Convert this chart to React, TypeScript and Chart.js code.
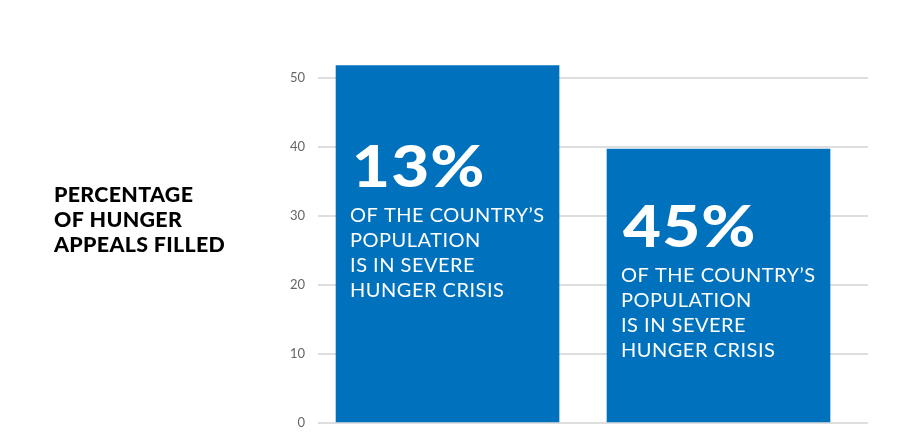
import React, { useEffect, useRef } from "react";
import { Chart, registerables } from "chart.js";

Chart.register(...registerables);

// ---- data ----
const categories = ["Country A", "Country B"];
const appealsFilled = [51.8, 39.7]; // percentage of hunger appeals filled
const severeHungerPct = ["13%", "45%"];
const barCaption = ["OF THE COUNTRY\u2019S", "POPULATION", "IS IN SEVERE", "HUNGER CRISIS"];
const yTicks = [0, 10, 20, 30, 40, 50];
const axisTitle = ["PERCENTAGE", "OF HUNGER", "APPEALS FILLED"];
// value on y axis where each big number's baseline sits
const numberBaselineValue = [34.2, 25.5];

const BAR_COLOR = "#0071bc";

function wideText(ctx: CanvasRenderingContext2D, text: string, x: number, y: number, sx: number) {
  ctx.save();
  ctx.translate(x, y);
  ctx.scale(sx, 1);
  ctx.fillText(text, 0, 0);
  ctx.restore();
}

const textPlugin = {
  id: "barText",
  afterDatasetsDraw(chart: any) {
    const ctx = chart.ctx as CanvasRenderingContext2D;
    const meta = chart.getDatasetMeta(0);
    const y = chart.scales.y;
    ctx.save();
    ctx.fillStyle = "#ffffff";
    ctx.textAlign = "left";
    ctx.textBaseline = "alphabetic";
    meta.data.forEach((bar: any, i: number) => {
      const left = bar.x - bar.width / 2 + 14;
      const base = y.getPixelForValue(numberBaselineValue[i]);
      ctx.font = "900 58px Lato";
      (ctx as any).letterSpacing = "1px";
      wideText(ctx, severeHungerPct[i], left + 2, base, 1.13);
      ctx.font = "400 20px Lato";
      (ctx as any).letterSpacing = "0.5px";
      barCaption.forEach((line, k) => {
        ctx.fillText(line, left, base + 35 + k * 25);
      });
    });
    // left axis title
    ctx.fillStyle = "#000000";
    ctx.font = "900 20px Lato";
    (ctx as any).letterSpacing = "0.3px";
    axisTitle.forEach((line, k) => {
      wideText(ctx, line, 54, 202 + k * 25, 1.07);
    });
    ctx.restore();
  },
};

export default function App() {
  const ref = useRef<HTMLCanvasElement | null>(null);

  useEffect(() => {
    document.body.style.margin = "0";
    if (!ref.current) return;
    const chart = new Chart(ref.current, {
      type: "bar",
      data: {
        labels: categories,
        datasets: [
          {
            label: "Appeals filled",
            data: appealsFilled.map((v, i) => ({ x: i, y: v })),
            backgroundColor: BAR_COLOR,
            borderWidth: 0,
            barThickness: 223,
            clip: false as any,
          },
        ],
      },
      options: {
        animation: false,
        responsive: false,
        maintainAspectRatio: false,
        layout: { padding: { left: 0, right: 29, top: 78, bottom: 23 } },
        plugins: { legend: { display: false }, tooltip: { enabled: false } },
        scales: {
          x: {
            type: "linear",
            min: -0.478,
            max: 1.5517,
            offset: false,
            display: false,
          },
          y: {
            min: 0,
            max: 50,
            afterFit: (s: any) => {
              s.width = 318;
            },
            afterBuildTicks: (s: any) => {
              s.ticks = yTicks.map((v) => ({ value: v }));
            },
            border: { display: false },
            grid: { color: "#dedede", lineWidth: 2, drawTicks: false },
            ticks: {
              stepSize: 10,
              padding: 13,
              color: "#666666",
              font: { family: "Lato", size: 13 },
            },
          },
        },
      },
      plugins: [textPlugin],
    });
    return () => chart.destroy();
  }, []);

  return (
    <div style={{ width: 897, height: 446, position: "relative" }}>
      <canvas ref={ref} width={897} height={446} style={{ width: 897, height: 446 }} />
    </div>
  );
}
